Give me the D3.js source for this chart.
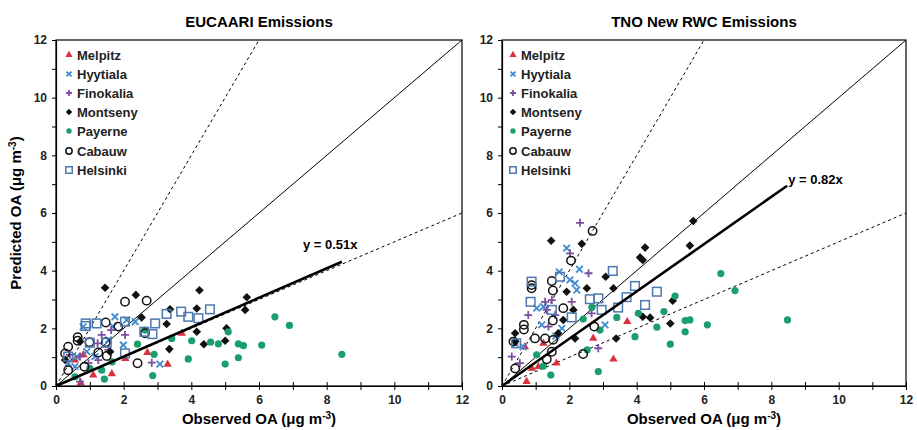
<!DOCTYPE html>
<html><head><meta charset="utf-8">
<script src="https://cdn.jsdelivr.net/npm/d3@7"></script>
<style>body{margin:0;background:#fff}svg{font-family:"Liberation Sans",Arial,sans-serif;font-weight:bold}</style>
</head><body><svg id="c" width="917" height="430"></svg>
<script>
// ---------- data ----------
const sites = ["Melpitz","Hyytiala","Finokalia","Montseny","Payerne","Cabauw","Helsinki"];
const panelTitles = ["EUCAARI Emissions","TNO New RWC Emissions"];
const slopes = [0.51, 0.82];
const fitEnds = [8.45, 8.47];
const axisTicks = [0,1,2,3,4,5,6,7,8,9,10,11,12];

// EUCAARI panel
const eu_Melpitz = [[2.7,1.16],[3.3,0.75],[3.72,1.83],[1.65,0.42],[0.73,0.11],[1.1,0.38],[0.56,0.9],[0.81,1.08],[2.05,0.95]];
const eu_Hyytiala = [[1.74,2.4],[1.69,2.06],[2.09,2.29],[2.34,2.23],[3.07,0.76],[0.56,0.67],[0.61,1.02],[0.36,0.79],[1.99,1.42],[1.55,1.6],[1.15,1.02],[0.91,1.19],[0.8,2.05]];
const eu_Finokalia = [[1.35,1.77],[1.23,1.48],[1.55,1.25],[1.25,0.9],[0.71,1.02],[2.04,1.77],[0.71,0.15],[2.83,0.81],[0.41,1.08],[1.63,1.94],[0.96,0.79]];
const eu_Montseny = [[1.45,3.41],[2.36,3.16],[4.24,3.32],[2.53,2.38],[3.37,2.66],[4.16,2.69],[3.27,2.15],[4.16,1.88],[3.35,1.28],[4.37,1.45],[5.0,1.57],[5.04,2.0],[5.64,3.08],[5.59,2.64],[0.71,1.54],[0.27,0.9],[1.6,1.19]];
const eu_Payerne = [[6.47,2.4],[6.9,2.1],[6.08,1.42],[8.45,1.1],[4.01,1.57],[4.57,1.52],[4.8,1.46],[5.39,1.46],[5.54,1.4],[5.09,1.88],[5.39,0.98],[5.0,0.76],[3.91,0.94],[2.9,1.1],[2.86,0.36],[1.43,0.24],[1.35,0.55],[1.0,0.61],[2.41,1.45],[2.63,1.94],[3.42,1.65],[1.66,0.84],[0.56,0.32]];
const eu_Cabauw = [[2.04,2.92],[2.68,2.96],[1.47,2.2],[0.64,1.69],[0.64,1.57],[0.36,1.36],[0.99,1.52],[1.47,1.52],[1.84,2.06],[1.25,1.16],[1.5,1.04],[2.41,0.79],[0.84,0.67],[0.36,0.55],[2.63,1.83],[0.27,1.13]];
const eu_Helsinki = [[0.88,2.08],[0.88,2.17],[1.0,1.5],[3.27,2.5],[3.7,2.58],[3.91,2.4],[4.21,2.35],[4.55,2.66],[2.93,2.17],[2.61,1.88],[2.85,1.8],[2.04,1.13],[0.36,1.02],[1.5,1.5],[2.04,2.23],[1.2,2.17]];

// TNO New RWC panel
const tno_Melpitz = [[3.72,2.23],[2.71,1.65],[3.31,0.93],[1.62,0.79],[1.23,1.48],[1.08,0.67],[0.73,0.15],[0.68,1.36],[0.89,0.61]];
const tno_Hyytiala = [[1.92,4.78],[1.7,3.96],[2.02,3.68],[2.3,4.05],[2.17,3.56],[2.22,3.33],[1.03,2.7],[1.23,2.75],[1.18,2.12],[1.78,2.0],[3.06,2.12],[0.39,1.48],[0.63,1.36],[1.6,1.73]];
const tno_Finokalia = [[2.32,5.66],[2.02,4.6],[2.57,3.91],[1.28,2.92],[1.48,2.98],[1.33,2.64],[0.78,2.46],[1.58,2.46],[2.07,2.92],[2.66,2.52],[1.38,2.06],[2.86,1.31],[0.29,1.02],[0.53,0.79]];
const tno_Montseny = [[1.46,5.04],[2.37,4.93],[5.68,5.72],[5.58,4.87],[4.25,4.8],[4.1,4.46],[4.18,4.37],[3.08,3.79],[2.52,3.39],[3.31,3.39],[1.92,3.27],[2.12,2.64],[1.82,2.29],[5.07,2.96],[4.18,2.4],[4.4,2.37],[5.0,2.17],[3.39,1.65],[2.17,1.65],[0.39,1.83],[1.67,1.83],[0.39,1.54]];
const tno_Payerne = [[6.5,3.9],[5.14,3.12],[4.81,2.58],[4.05,2.52],[3.41,2.38],[5.58,2.29],[5.44,2.27],[6.1,2.12],[4.6,2.04],[5.44,1.88],[3.95,1.71],[5.0,1.45],[2.91,1.94],[2.53,1.25],[2.86,0.5],[1.45,0.38],[2.41,2.32],[2.67,2.73],[1.03,1.08],[1.23,0.69],[6.92,3.31],[8.48,2.29]];
const tno_Cabauw = [[2.69,5.38],[2.05,4.35],[1.48,3.64],[0.88,3.5],[0.88,3.39],[1.51,3.31],[1.82,2.7],[1.51,2.27],[0.65,2.12],[0.65,1.96],[0.98,1.65],[1.28,1.65],[1.52,1.6],[0.34,1.54],[1.48,1.19],[1.33,0.93],[2.41,1.11],[2.74,2.06],[0.39,0.61]];
const tno_Helsinki = [[0.88,3.62],[3.29,3.99],[3.95,3.47],[4.6,3.27],[3.7,3.08],[2.61,3.01],[2.86,3.04],[2.96,2.64],[3.45,2.72],[4.25,2.81],[2.07,2.38],[0.85,2.92],[1.48,2.64],[0.42,1.48],[1.72,3.79]];

const panelData = [
  [eu_Melpitz,eu_Hyytiala,eu_Finokalia,eu_Montseny,eu_Payerne,eu_Cabauw,eu_Helsinki],
  [tno_Melpitz,tno_Hyytiala,tno_Finokalia,tno_Montseny,tno_Payerne,tno_Cabauw,tno_Helsinki]
];

// ---------- styles ----------
const colors = {Melpitz:"#dc2f3c",Hyytiala:"#3f8bd2",Finokalia:"#7b4ea0",Montseny:"#111",Payerne:"#1b9e6f",Cabauw:"#111",Helsinki:"#4d78ae"};
const panels = [{x0:56,x1:462},{x0:502,x1:906}];
const yTop = 40, yBot = 386;

const svg = d3.select("#c");

function drawMarker(g, site, x, y, scale) {
  const c = colors[site]; const s = scale||1;
  if (site==="Melpitz") {
    g.append("path").attr("d",d3.symbol(d3.symbolTriangle, 30*s)()).attr("transform",`translate(${x},${y})`).attr("fill",c);
  } else if (site==="Hyytiala") {
    const r=3.3*s;
    g.append("path").attr("d",`M${x-r},${y-r}L${x+r},${y+r}M${x-r},${y+r}L${x+r},${y-r}`).attr("stroke",c).attr("stroke-width",1.8).attr("fill","none");
  } else if (site==="Finokalia") {
    const r=4*s;
    g.append("path").attr("d",`M${x-r},${y}L${x+r},${y}M${x},${y-r}L${x},${y+r}`).attr("stroke",c).attr("stroke-width",1.8).attr("fill","none");
  } else if (site==="Montseny") {
    const r=4.3*s;
    g.append("path").attr("d",`M${x},${y-r}L${x+r},${y}L${x},${y+r}L${x-r},${y}Z`).attr("fill",c);
  } else if (site==="Payerne") {
    g.append("circle").attr("cx",x).attr("cy",y).attr("r",3.6*s).attr("fill",c);
  } else if (site==="Cabauw") {
    g.append("circle").attr("cx",x).attr("cy",y).attr("r",4.2*s).attr("fill","none").attr("stroke",c).attr("stroke-width",1.5);
  } else if (site==="Helsinki") {
    const r=4.3*s;
    g.append("rect").attr("x",x-r).attr("y",y-r).attr("width",2*r).attr("height",2*r).attr("fill","none").attr("stroke",c).attr("stroke-width",1.5);
  }
}

panels.forEach((p, pi) => {
  const x = d3.scaleLinear().domain([0,12]).range([p.x0,p.x1]);
  const y = d3.scaleLinear().domain([0,12]).range([yBot,yTop]);
  const g = svg.append("g");
  const cx = (p.x0+p.x1)/2;

  g.append("clipPath").attr("id","clip"+pi).append("rect").attr("x",p.x0).attr("y",yTop).attr("width",p.x1-p.x0).attr("height",yBot-yTop);

  // title
  g.append("text").attr("x",cx).attr("y",27).attr("text-anchor","middle").attr("font-size",15).text(panelTitles[pi]);

  // reference lines
  const lines = g.append("g").attr("clip-path",`url(#clip${pi})`);
  lines.append("line").attr("x1",x(0)).attr("y1",y(0)).attr("x2",x(12)).attr("y2",y(12)).attr("stroke","#000").attr("stroke-width",1);
  lines.append("line").attr("x1",x(0)).attr("y1",y(0)).attr("x2",x(6)).attr("y2",y(12)).attr("stroke","#000").attr("stroke-width",1).attr("stroke-dasharray","3,3");
  lines.append("line").attr("x1",x(0)).attr("y1",y(0)).attr("x2",x(12)).attr("y2",y(6)).attr("stroke","#000").attr("stroke-width",1).attr("stroke-dasharray","3,3");

  // points
  const pts = g.append("g");
  sites.forEach((s, si) => {
    panelData[pi][si].forEach(d => drawMarker(pts, s, x(d[0]), y(d[1])));
  });

  // regression line
  const fe = fitEnds[pi];
  g.append("line").attr("x1",x(0)).attr("y1",y(0)).attr("x2",x(fe)).attr("y2",y(slopes[pi]*fe)).attr("stroke","#000").attr("stroke-width",2.6);
  g.append("text").attr("x",pi===0? x(7.3): x(8.5)).attr("y",pi===0? y(4.75): y(7.0)).attr("font-size",13).text(`y = ${slopes[pi].toFixed(2)}x`);

  // frame
  g.append("rect").attr("x",p.x0).attr("y",yTop).attr("width",p.x1-p.x0).attr("height",yBot-yTop).attr("fill","none").attr("stroke","#000").attr("stroke-width",1.2);

  // axes
  const fmt = d => d%2===0 ? d : "";
  const xa = g.append("g").attr("transform",`translate(0,${yBot})`)
    .call(d3.axisBottom(x).tickValues(axisTicks).tickFormat(fmt).tickSizeInner(4).tickSizeOuter(0).tickPadding(5));
  const xa2 = g.append("g").attr("transform",`translate(0,${yBot})`)
    .call(d3.axisBottom(x).tickValues(axisTicks).tickFormat("").tickSizeInner(-4).tickSizeOuter(0));
  const ya = g.append("g").attr("transform",`translate(${p.x0},0)`)
    .call(d3.axisLeft(y).tickValues(axisTicks).tickFormat(fmt).tickSizeInner(4).tickSizeOuter(0).tickPadding(5));
  [xa,xa2,ya].forEach(a => {
    a.selectAll("path").attr("stroke","#000").attr("stroke-width",1.2);
    a.selectAll("line").attr("stroke","#000");
    a.selectAll("text").attr("font-size",12).attr("font-weight","bold").attr("fill","#222").attr("font-family","'Liberation Sans',Arial,sans-serif");
  });

  // x axis title
  const xt = g.append("text").attr("x",cx).attr("y",424).attr("text-anchor","middle").attr("font-size",15);
  xt.append("tspan").text("Observed OA (μg m");
  xt.append("tspan").attr("font-size",10).attr("dy",-5).text("-3");
  xt.append("tspan").attr("dy",5).text(")");

  // legend
  const lx = pi===0 ? 69 : 513;
  const rows = [55,74,93,112,131,151,170];
  sites.forEach((s, si) => {
    drawMarker(g, s, lx, rows[si], 0.75);
    g.append("text").attr("x",lx+8).attr("y",rows[si]+5).attr("font-size",13).attr("fill","#222").text(s);
  });
});

// y axis title (left panel only)
const yt = svg.append("text").attr("transform","translate(21,213) rotate(-90)").attr("text-anchor","middle").attr("font-size",15);
yt.append("tspan").text("Predicted OA (μg m");
yt.append("tspan").attr("font-size",10).attr("dy",-5).text("-3");
yt.append("tspan").attr("dy",5).text(")");
</script></body></html>
